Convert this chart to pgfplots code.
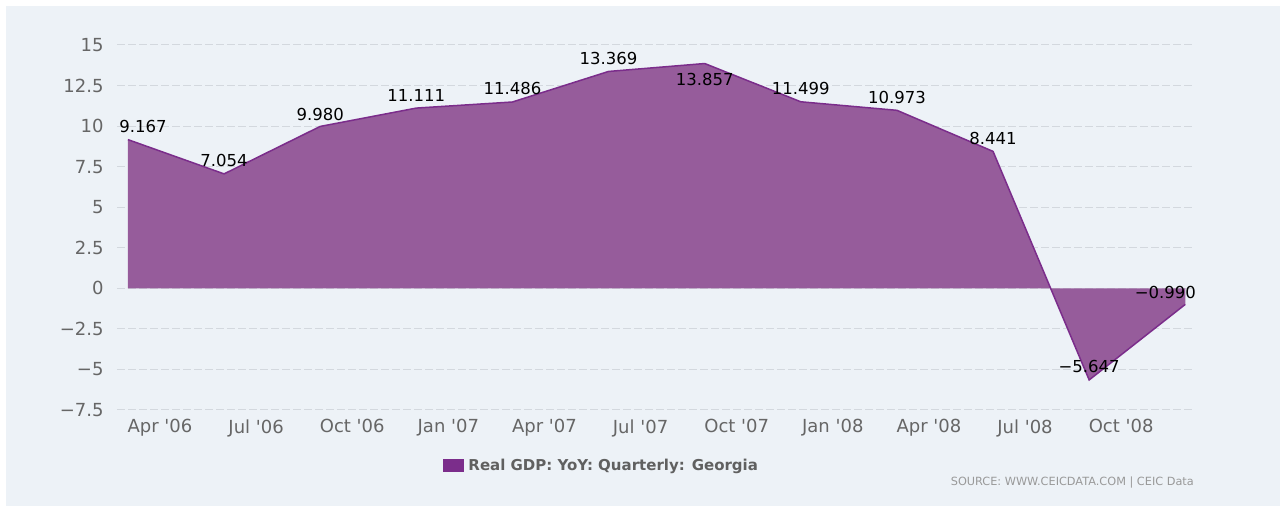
\documentclass[border=0pt]{standalone}
\usepackage{pgfplots}
\pgfplotsset{compat=1.18}
\usepackage{pgfplotstable}
\usepackage{fontspec}
\setmainfont{DejaVu Sans}
\definecolor{panel}{HTML}{EDF2F7}
\definecolor{areafill}{HTML}{965C9B}
\definecolor{arealine}{HTML}{7B2D8B}
\definecolor{gridc}{HTML}{D3D8DE}
\definecolor{ticktext}{HTML}{666666}
\definecolor{legtext}{HTML}{606060}
\definecolor{srctext}{HTML}{999999}
\newcommand{\q}{\textquotesingle}

\pgfplotstableread{
x y label dx dy
0 9.167 9.167 15 13.5
1 7.054 7.054 0 13
2 9.980 9.980 0 12
3 11.111 11.111 0 13
4 11.486 11.486 0 13
5 13.369 13.369 0 12.5
6 13.857 13.857 0 -15.5
7 11.499 11.499 0 13.5
8 10.973 10.973 0 13
9 8.441 8.441 0 13
10 -5.647 −5.647 0 13.5
11 -0.990 −0.990 -20 12
}\gdp

\begin{document}
\begin{tikzpicture}[x=1bp,y=1bp]
\fill[white] (0,0) rectangle (1280,506);
\fill[panel] (6,0) rectangle (1280,500);
\begin{axis}[
  at={(117bp,96bp)}, anchor=south west,
  scale only axis, width=1075bp, height=365bp,
  xmin=-0.114, xmax=11.07,
  ymin=-7.5, ymax=15,
  ytick={-7.5,-5,-2.5,0,2.5,5,7.5,10,12.5,15},
  yticklabels={−7.5,−5,−2.5,0,2.5,5,7.5,10,12.5,15},
  xtick={0.333,1.333,2.333,3.333,4.333,5.333,6.333,7.333,8.333,9.333,10.333},
  xticklabels={Apr \q06,Jul \q06,Oct \q06,Jan \q07,Apr \q07,Jul \q07,Oct \q07,Jan \q08,Apr \q08,Jul \q08,Oct \q08},
  axis line style={draw=none},
  major tick length=0pt,
  ymajorgrids,
  grid style={gridc, dash pattern=on 8bp off 3bp, line width=1bp},
  tick label style={font=\fontsize{18bp}{21bp}\selectfont, text=ticktext},
  yticklabel style={xshift=-10bp},
  xticklabel style={yshift=-6bp},
  legend style={draw=none, fill=none, at={(0.3035,-0.153)}, anchor=west,
    font=\bfseries\fontsize{15bp}{18bp}\selectfont, text=legtext, inner sep=0pt,
    nodes={inner xsep=4bp}},
  legend image code/.code={\fill[arealine] (0bp,-6.5bp) rectangle (21bp,6.5bp);},
]
\addplot[fill=areafill, draw=none] table[x=x,y=y]{\gdp} \closedcycle;
\addlegendentry{Real GDP: YoY: Quarterly: Georgia}
\addplot[forget plot, draw=arealine, line width=1.5bp, mark=none] table[x=x,y=y]{\gdp};
\addplot[forget plot, draw=none, mark=none,
  point meta=explicit symbolic,
  visualization depends on={\thisrow{dx}\as\dx},
  visualization depends on={\thisrow{dy}\as\dy},
  nodes near coords={\pgfplotspointmeta},
  every node near coord/.style={anchor=center, xshift=\dx bp, yshift=\dy bp,
    font=\fontsize{16.5bp}{19bp}\selectfont, text=black, inner sep=0pt},
] table[x=x,y=y,meta=label]{\gdp};
\end{axis}
\node[anchor=east, font=\fontsize{11.3bp}{13bp}\selectfont, text=srctext, inner sep=0pt] at (1194,23) {SOURCE: WWW.CEICDATA.COM | CEIC Data};
\pgfresetboundingbox
\useasboundingbox (0,0) rectangle (1280,506);
\end{tikzpicture}
\end{document}
